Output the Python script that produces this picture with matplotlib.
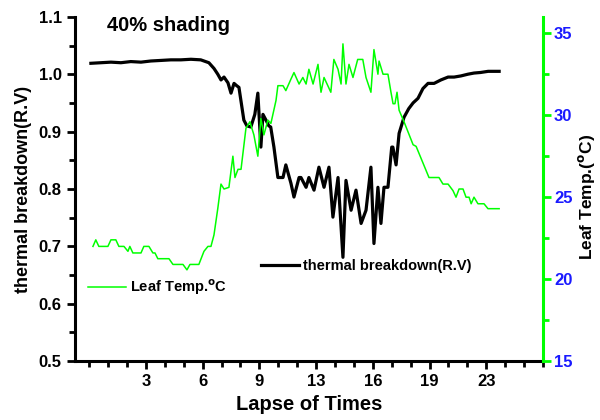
import numpy as np
import matplotlib.pyplot as plt
from matplotlib.ticker import MultipleLocator, FixedLocator

plt.rcParams['font.family'] = ['Liberation Sans', 'DejaVu Sans']

# thermal breakdown (left axis)
tb_x = [0.09, 0.62, 1.15, 1.68, 2.2, 2.74, 3.26, 3.8, 4.32, 4.85, 5.38, 5.9,
        6.33, 6.6, 6.8, 6.97, 7.13, 7.34, 7.5, 7.66, 7.8, 7.92, 8.18, 8.34,
        8.55, 8.76, 8.92, 9.08, 9.19, 9.35, 9.5, 9.6, 9.77, 9.98, 10.25, 10.4,
        10.67, 10.83, 11.1, 11.2, 11.47, 11.62, 11.89, 12.15, 12.42, 12.68,
        12.89, 13.16, 13.42, 13.58, 13.85, 14.11, 14.38, 14.64, 14.9, 15.06,
        15.27, 15.43, 15.59, 15.8, 16.0, 16.06, 16.23, 16.39, 16.65, 16.9,
        17.13, 17.39, 17.65, 17.92, 18.24, 18.6, 18.98, 19.3, 19.66, 20.03,
        20.35, 20.7, 21.1, 21.68]
tb_y = [1.019, 1.020, 1.021, 1.020, 1.022, 1.021, 1.023, 1.024, 1.025, 1.025,
        1.026, 1.025, 1.02, 1.01, 1.0, 0.99, 0.995, 0.985, 0.967, 0.984, 0.98,
        0.977, 0.92, 0.91, 0.908, 0.93, 0.967, 0.873, 0.93, 0.92, 0.91, 0.908,
        0.873, 0.82, 0.82, 0.842, 0.81, 0.786, 0.82, 0.82, 0.803, 0.82, 0.798,
        0.838, 0.803, 0.838, 0.751, 0.82, 0.681, 0.815, 0.763, 0.798, 0.74,
        0.763, 0.838, 0.705, 0.803, 0.74, 0.803, 0.803, 0.873, 0.873, 0.842,
        0.897, 0.925, 0.94, 0.95, 0.958, 0.975, 0.984, 0.984, 0.99, 0.995,
        0.995, 0.997, 1.0, 1.002, 1.003, 1.005, 1.005]

# leaf temperature (right axis)
lt_x = [0.2, 0.35, 0.51, 0.99, 1.15, 1.41, 1.57, 1.84, 2.05, 2.15, 2.31, 2.74,
        2.89, 3.16, 3.37, 3.48, 3.63, 4.22, 4.43, 4.96, 5.17, 5.33, 5.8, 6.07,
        6.28, 6.44, 6.6, 6.7, 6.8, 6.97, 7.13, 7.39, 7.6, 7.71, 7.87, 8.03,
        8.29, 8.5, 8.71, 8.92, 9.08, 9.24, 9.45, 9.61, 9.88, 9.98, 10.25, 10.4,
        10.67, 10.83, 11.1, 11.3, 11.47, 11.62, 11.84, 12.1, 12.26, 12.42,
        12.78, 12.94, 13.16, 13.32, 13.42, 13.58, 13.74, 13.95, 14.2, 14.47,
        14.64, 14.9, 15.06, 15.27, 15.33, 15.54, 15.8, 15.96, 16.07, 16.17,
        16.28, 16.39, 16.65, 17.13, 17.29, 17.97, 18.5, 18.71, 18.98, 19.24,
        19.4, 19.56, 19.77, 19.93, 20.09, 20.2, 20.35, 20.56, 20.88, 21.09,
        21.68]
lt_y = [22.0, 22.4, 22.0, 22.0, 22.4, 22.4, 22.0, 22.0, 21.7, 22.0, 21.6, 21.6,
        22.0, 22.0, 21.6, 21.6, 21.25, 21.25, 20.9, 20.9, 20.57, 20.9, 20.9,
        21.7, 22.0, 22.0, 22.7, 23.5, 24.3, 25.8, 25.5, 25.6, 27.5, 26.2, 26.7,
        26.7, 29.2, 29.6, 28.8, 27.5, 29.8, 28.8, 29.7, 29.5, 30.9, 31.8, 31.8,
        31.5, 32.2, 32.6, 31.9, 32.3, 31.9, 32.8, 31.9, 33.1, 31.4, 32.3, 31.4,
        33.4, 32.8, 31.9, 34.35, 31.9, 33.1, 32.3, 33.4, 33.4, 32.3, 31.4, 34.0,
        32.5, 33.3, 32.5, 32.5, 31.4, 30.7, 30.7, 31.4, 30.3, 29.6, 28.2, 28.1,
        26.2, 26.2, 25.8, 25.8, 25.4, 25.0, 25.5, 25.5, 25.0, 25.0, 24.6, 25.0,
        24.6, 24.6, 24.3, 24.3]

tick_pos = [3, 6, 9, 12, 15, 18, 21]
tick_labels = ['3', '6', '9', '13', '16', '19', '23']
left_ticks = [0.5, 0.6, 0.7, 0.8, 0.9, 1.0, 1.1]

fig = plt.figure(figsize=(6, 4.2), dpi=100)
ax = fig.add_axes([0.125, 0.14, 0.78, 0.82])
ax2 = ax.twinx()

l1, = ax.plot(tb_x, tb_y, color='black', lw=2.3, label='thermal breakdown(R.V)')
l2, = ax2.plot(lt_x, lt_y, color='#00ff00', lw=1.1, label='Leaf Temp.$^{\\mathbf{o}}$C')

ax.set_xlim(-0.75, 24)
ax.set_ylim(0.5, 1.1)
ax2.set_ylim(15, 36)

ax.xaxis.set_major_locator(FixedLocator(tick_pos))
ax.set_xticklabels(tick_labels)
ax.xaxis.set_minor_locator(MultipleLocator(1))
ax.yaxis.set_major_locator(FixedLocator(left_ticks))
ax.set_yticklabels(['%.1f' % v for v in left_ticks])
ax.yaxis.set_minor_locator(MultipleLocator(0.05))
ax2.yaxis.set_major_locator(MultipleLocator(5))
ax2.yaxis.set_minor_locator(MultipleLocator(2.5))

for s in ['top', 'right']:
    ax.spines[s].set_visible(False)
for s in ['top', 'left', 'bottom']:
    ax2.spines[s].set_visible(False)
ax.spines['left'].set_linewidth(2.2)
ax.spines['bottom'].set_linewidth(2.2)
ax2.spines['right'].set_linewidth(2.2)
ax2.spines['right'].set_color('#00ff00')

ax.tick_params(which='major', direction='out', length=6, width=2, labelsize=12)
ax.tick_params(which='minor', direction='out', length=4, width=2)
ax2.tick_params(which='major', direction='out', length=6, width=2, color='#00ff00',
                labelcolor='#1a1aff', labelsize=12, pad=2)
ax2.tick_params(which='minor', direction='out', length=4, width=2, color='#00ff00')
for lab in ax.get_xticklabels() + ax.get_yticklabels() + ax2.get_yticklabels():
    lab.set_fontweight('bold')

ax.set_xlabel('Lapse of Times', fontsize=14.5, fontweight='bold', labelpad=4)
ax.set_ylabel('thermal breakdown(R.V)', fontsize=13, fontweight='bold', labelpad=5)
fig.text(0.977, 0.531, 'Leaf Temp.($^{\\mathbf{o}}$C)', rotation=90, fontsize=12.5,
         fontweight='bold', ha='center', va='center')

ax.text(0.068, 0.975, '40% shading', transform=ax.transAxes, fontsize=14.5,
        fontweight='bold', va='center')

leg_font = {'size': 10.5, 'weight': 'bold'}
ax.legend(handles=[l1], loc='center left', bbox_to_anchor=(0.385, 0.276),
          frameon=False, prop=leg_font, handlelength=2.6, handletextpad=0.3,
          borderaxespad=0)
ax2.legend(handles=[l2], loc='center left', bbox_to_anchor=(0.015, 0.215),
           frameon=False, prop=leg_font, handlelength=2.6, handletextpad=0.3,
           borderaxespad=0)

fig.savefig('out.png', dpi=100)
